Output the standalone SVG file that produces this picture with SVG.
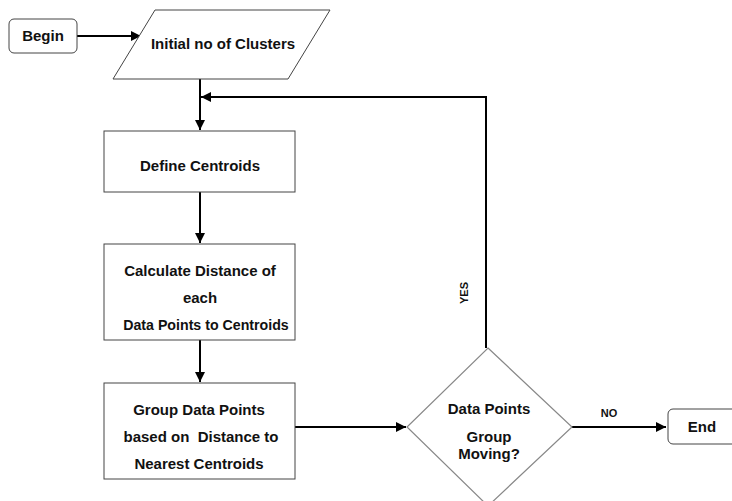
<svg xmlns="http://www.w3.org/2000/svg" width="732" height="501" viewBox="0 0 732 501">
  <style>
    text { font-family: "Liberation Sans", Arial, sans-serif; font-weight: bold; font-size: 15px; fill: #111; text-anchor: middle; dominant-baseline: central; }
    .box { fill: #fff; stroke: #444; stroke-width: 1; }
    .dia { fill: #fff; stroke: #888; stroke-width: 1.2; }
    .edge { fill: none; stroke: #000; stroke-width: 2; }
    .lbl { font-size: 11px; }
  </style>
  <defs>
    <marker id="arrow" viewBox="0 0 10 10" refX="10" refY="5" markerWidth="5" markerHeight="5" orient="auto" markerUnits="strokeWidth">
      <path d="M0,0 L10,5 L0,10 z" fill="#000"/>
    </marker>
  </defs>
  <rect width="732" height="501" fill="#fff"/>

  <g id="connectors">
    <path class="edge" d="M77,36 L141,36" marker-end="url(#arrow)"/>
    <path class="edge" d="M200,79 L200,130" marker-end="url(#arrow)"/>
    <path class="edge" d="M486,348 L486,97 L201,97" marker-end="url(#arrow)"/>
    <path class="edge" d="M200,192 L200,243" marker-end="url(#arrow)"/>
    <path class="edge" d="M200,340 L200,382" marker-end="url(#arrow)"/>
    <path class="edge" d="M295,427 L406,427" marker-end="url(#arrow)"/>
    <path class="edge" d="M572,427 L666,427" marker-end="url(#arrow)"/>
    <text class="lbl" x="464" y="293" transform="rotate(-90 464 293)">YES</text>
    <text class="lbl" x="609" y="413">NO</text>
  </g>

  <g id="begin">
    <rect class="box" x="9" y="19" width="68" height="34" rx="5"/>
    <text x="43" y="35">Begin</text>
  </g>

  <g id="initial-clusters">
    <polygon class="box" points="155,10 330,10 288,79 113,79"/>
    <text x="223" y="43">Initial no of Clusters</text>
  </g>

  <g id="define-centroids">
    <rect class="box" x="104" y="131" width="191" height="61"/>
    <text x="200" y="165">Define Centroids</text>
  </g>

  <g id="calculate-distance">
    <rect class="box" x="104" y="244" width="191" height="96"/>
    <text x="200" y="270">Calculate Distance of</text>
    <text x="200" y="297">each</text>
    <text x="206" y="325" style="font-size:14.2px">Data Points to Centroids</text>
  </g>

  <g id="group-points">
    <rect class="box" x="104" y="383" width="191" height="96"/>
    <text x="199" y="409">Group Data Points</text>
    <text x="201" y="436" xml:space="preserve">based on  Distance to</text>
    <text x="199" y="463">Nearest Centroids</text>
  </g>

  <g id="moving-decision">
    <polygon class="dia" points="488,348 572,427 488,506 407,427"/>
    <text x="489" y="408">Data Points</text>
    <text x="489" y="436">Group</text>
    <text x="489" y="453">Moving?</text>
  </g>

  <g id="end">
    <rect class="box" x="668" y="409" width="72" height="35" rx="5"/>
    <text x="702" y="426">End</text>
  </g>
</svg>
